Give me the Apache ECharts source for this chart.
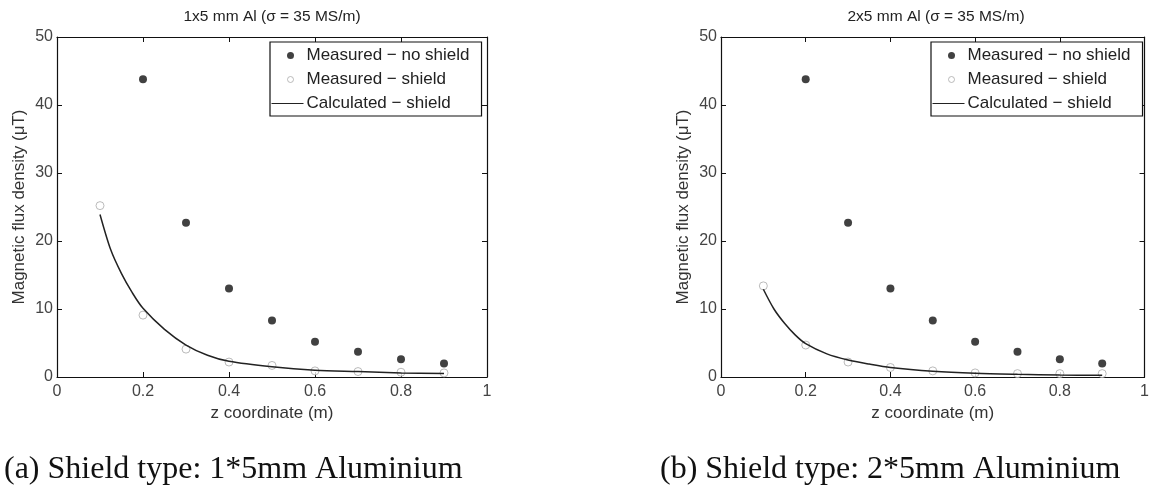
<!DOCTYPE html>
<html>
<head>
<meta charset="utf-8">
<script src="https://cdn.jsdelivr.net/npm/echarts@6/dist/echarts.min.js"></script>
<style>
  html, body { margin: 0; padding: 0; background: #fff; }
  #main { width: 1152px; height: 497px; }
</style>
</head>
<body>
<div id="main"></div>
<script>
// measured positions (m)
var zPoints = [0.1, 0.2, 0.3, 0.4, 0.5, 0.6, 0.7, 0.8, 0.9];
var zNoShield = [0.2, 0.3, 0.4, 0.5, 0.6, 0.7, 0.8, 0.9];
// magnetic flux density (uT)
var noShieldA = [43.8, 22.7, 13.0, 8.3, 5.2, 3.7, 2.6, 2.0];
var shieldA = [25.2, 9.1, 4.1, 2.2, 1.7, 0.9, 0.8, 0.7, 0.6];
var noShieldB = [43.8, 22.7, 13.0, 8.3, 5.2, 3.7, 2.6, 2.0];
var shieldB = [13.4, 4.7, 2.2, 1.4, 0.9, 0.6, 0.5, 0.5, 0.5];
// calculated curves
var zCalc = [0.1, 0.125, 0.15, 0.175, 0.2, 0.25, 0.3, 0.35, 0.4, 0.5, 0.6, 0.7, 0.8, 0.9];
var calcA = [23.9, 18.7, 15.2, 12.4, 10.1, 7.0, 4.7, 3.2, 2.3, 1.5, 1.0, 0.8, 0.6, 0.5];
var calcB = [12.9, 10.0, 7.9, 6.2, 4.9, 3.4, 2.5, 1.9, 1.4, 0.85, 0.55, 0.4, 0.3, 0.25];
var xTicks = [0, 0.2, 0.4, 0.6, 0.8, 1];
var yTicks = [0, 10, 20, 30, 40, 50];

var names = ['Measured \u2212 no shield', 'Measured \u2212 shield', 'Calculated \u2212 shield'];
var titles = ['1x5 mm Al (\u03c3 = 35 MS/m)', '2x5 mm Al (\u03c3 = 35 MS/m)'];
var captions = ['(a) Shield type: 1*5mm Aluminium', '(b) Shield type: 2*5mm Aluminium'];

function pairs (xs, ys) {
  return ys.map(function (v, i) { return [xs[i], v]; });
}

var chart = echarts.init(document.getElementById('main'));

var gridLeft = [57, 721];
var labelColor = '#444';

var grids = [], xAxes = [], yAxes = [], series = [], legends = [], graphics = [];

[0, 1].forEach(function (g) {
  grids.push({ left: gridLeft[g], top: 37, width: 430, height: 340, containLabel: false });

  // bottom axis with labels
  xAxes.push({
    type: 'value', gridIndex: g, position: 'bottom',
    min: xTicks[0], max: xTicks[xTicks.length - 1], interval: 0.2,
    name: 'z coordinate (m)', nameLocation: 'middle', nameGap: 23,
    nameTextStyle: { fontFamily: 'Liberation Sans', fontSize: 17, color: '#333' },
    axisLine: { lineStyle: { color: '#111', width: 1.2 } },
    axisTick: { inside: true, length: 5, lineStyle: { color: '#111' } },
    axisLabel: { fontFamily: 'Liberation Sans', fontSize: 16, color: labelColor, margin: 7 },
    splitLine: { show: false }
  });
  // top box edge
  xAxes.push({
    type: 'value', gridIndex: g, position: 'top',
    min: 0, max: 1, interval: 0.2,
    axisLine: { onZero: false, lineStyle: { color: '#111', width: 1.2 } },
    axisTick: { inside: true, length: 5, lineStyle: { color: '#111' } },
    axisLabel: { show: false },
    splitLine: { show: false }
  });
  yAxes.push({
    type: 'value', gridIndex: g, position: 'left',
    min: yTicks[0], max: yTicks[yTicks.length - 1], interval: 10,
    name: 'Magnetic flux density (\u03bcT)', nameLocation: 'middle', nameGap: 29,
    nameTextStyle: { fontFamily: 'Liberation Sans', fontSize: 17, color: '#333' },
    axisLine: { show: true, onZero: false, lineStyle: { color: '#111', width: 1.2 } },
    axisTick: { show: true, inside: true, length: 5, lineStyle: { color: '#111' } },
    axisLabel: { fontFamily: 'Liberation Sans', fontSize: 16, color: labelColor, margin: 4 },
    splitLine: { show: false }
  });
  // right box edge
  yAxes.push({
    type: 'value', gridIndex: g, position: 'right',
    min: 0, max: 50, interval: 10,
    axisLine: { show: true, onZero: false, lineStyle: { color: '#111', width: 1.2 } },
    axisTick: { show: true, inside: true, length: 5, lineStyle: { color: '#111' } },
    axisLabel: { show: false },
    splitLine: { show: false }
  });

  var xi = g * 2, yi = g * 2;
  series.push({
    name: names[0], type: 'scatter', xAxisIndex: xi, yAxisIndex: yi,
    symbol: 'circle', symbolSize: 8,
    itemStyle: { color: '#111' },
    data: pairs(zNoShield, g === 0 ? noShieldA : noShieldB),
    z: 3
  });
  series.push({
    name: names[1], type: 'scatter', xAxisIndex: xi, yAxisIndex: yi,
    symbol: 'circle', symbolSize: 8,
    itemStyle: { color: '#fff', borderColor: '#aaa', borderWidth: 1 },
    data: pairs(zPoints, g === 0 ? shieldA : shieldB),
    z: 2
  });
  series.push({
    name: names[2], type: 'line', xAxisIndex: xi, yAxisIndex: yi,
    symbol: 'none', smooth: 0.3,
    lineStyle: { color: '#222', width: 1.5 },
    itemStyle: { color: '#222' },
    data: pairs(zCalc, g === 0 ? calcA : calcB),
    z: 4
  });

  legends.push({
    left: g === 0 ? 270 : 931, top: 42,
    orient: 'vertical',
    itemWidth: 32, itemHeight: 14, itemGap: 7,
    padding: [5, 12, 4, 1],
    borderColor: '#111', borderWidth: 1.2, borderRadius: 0,
    backgroundColor: '#fff',
    selectedMode: false,
    textStyle: { fontFamily: 'Liberation Sans', fontSize: 17, color: '#222', padding: [0, 0, 0, -2] },
    data: [
      { name: names[0], icon: 'path://M0,0M32,14M19,3.5A3.5,3.5,0,1,1,19,10.5A3.5,3.5,0,1,1,19,3.5Z',
        itemStyle: { color: '#111' } },
      { name: names[1], icon: 'path://M0,0M32,14M19,4A3,3,0,1,1,19,10A3,3,0,1,1,19,4Z',
        itemStyle: { color: '#fff', borderColor: '#aaa', borderWidth: 1 } },
      { name: names[2], icon: 'path://M0,0M32,14M0,6.4L32,6.4L32,7.6L0,7.6Z',
        itemStyle: { color: '#222' } }
    ]
  });

  graphics.push({
    type: 'text',
    x: gridLeft[g] + 215, y: 17,
    style: { text: titles[g], fontFamily: 'Liberation Sans', fontSize: 15.5, fill: '#222',
      textAlign: 'center', textVerticalAlign: 'middle' }
  });
  graphics.push({
    type: 'text',
    x: g === 0 ? 4 : 660, y: 470,
    style: { text: captions[g], fontFamily: 'Liberation Serif', fontSize: 32, fill: '#111',
      textAlign: 'left', textVerticalAlign: 'middle' }
  });
});

chart.setOption({
  animation: false,
  backgroundColor: '#fff',
  grid: grids,
  xAxis: xAxes,
  yAxis: yAxes,
  legend: legends,
  graphic: graphics,
  series: series
});
</script>
</body>
</html>
